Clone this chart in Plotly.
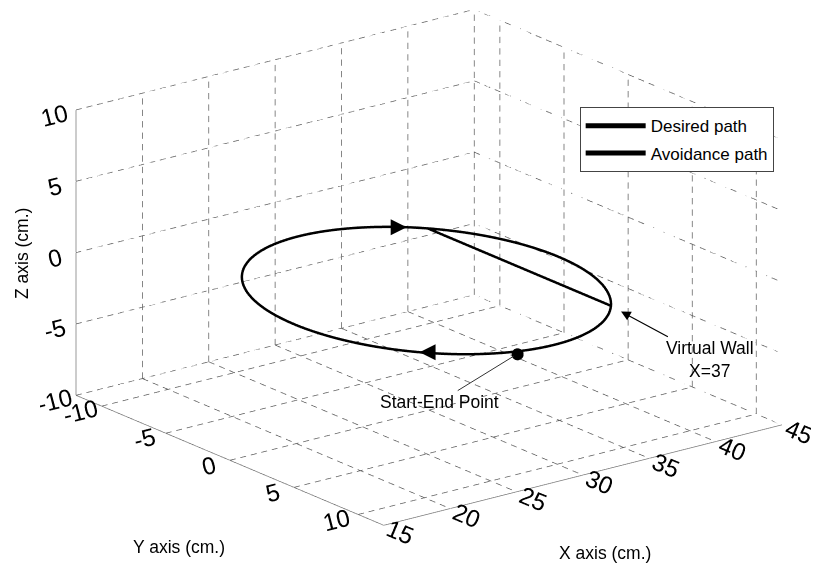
import numpy as np
import plotly.graph_objects as go

# ---- axis data ----
x_ticks = [15, 20, 25, 30, 35, 40, 45]
y_ticks = [-10, -5, 0, 5, 10]
z_ticks = [-10, -5, 0, 5, 10]
x_tick_labels = ["15", "20", "25", "30", "35", "40", "45"]
y_tick_labels = ["-10", "-5", "0", "5", "10"]
z_tick_labels = ["-10", "-5", "0", "5", "10"]
x_range = [15, 45]
y_range = [-12, 12]
z_range = [-10, 10]

# ---- path data ----
path_center_x = 30.0
path_center_y = -0.2
path_z = -1.7
path_radius = 10.0
wall_x = 37.0
start_point = [27.2, 9.8, -1.7]
direction_arrow_angles_deg = [-52, 136]
series_names = ["Desired path", "Avoidance path"]

FONT = "Liberation Sans, Arial, sans-serif"

t = np.linspace(0, 2 * np.pi, 721)
desired_x = path_center_x + path_radius * np.cos(t)
desired_y = path_center_y + path_radius * np.sin(t)
desired_z = np.full_like(t, path_z)
avoid_x = np.minimum(desired_x, wall_x)

fig = go.Figure()

# ---- dashed grid on the three back planes (dashes built explicitly) ----
gx, gy, gz = [], [], []
DASH_PERIOD = 0.8
DUTY = 0.55
def seg(p, q):
    p = np.array(p, float); q = np.array(q, float)
    L = np.linalg.norm(q - p)
    n = max(1, int(round(L / DASH_PERIOD)))
    d = (q - p) / n
    for i in range(n):
        a = p + d * i
        b = p + d * (i + DUTY)
        gx.extend([a[0], b[0], None]); gy.extend([a[1], b[1], None]); gz.extend([a[2], b[2], None])

for xv in x_ticks:  # floor + back wall (y = min)
    seg((xv, y_range[0], z_range[0]), (xv, y_range[1], z_range[0]))
    seg((xv, y_range[0], z_range[0]), (xv, y_range[0], z_range[1]))
for yv in y_ticks:  # floor + right wall (x = max)
    seg((x_range[0], yv, z_range[0]), (x_range[1], yv, z_range[0]))
    seg((x_range[1], yv, z_range[0]), (x_range[1], yv, z_range[1]))
for zv in z_ticks:  # both walls
    seg((x_range[0], y_range[0], zv), (x_range[1], y_range[0], zv))
    seg((x_range[1], y_range[0], zv), (x_range[1], y_range[1], zv))

fig.add_trace(go.Scatter3d(x=gx, y=gy, z=gz, mode="lines",
                           line=dict(color="#5e5e5e", width=1.5),
                           showlegend=False, hoverinfo="skip"))

# ---- paths ----
fig.add_trace(go.Scatter3d(x=desired_x, y=desired_y, z=desired_z, mode="lines",
                           name=series_names[0], legendgroup="a",
                           line=dict(color="black", width=5)))
fig.add_trace(go.Scatter3d(x=avoid_x, y=desired_y, z=desired_z, mode="lines",
                           name=series_names[1], legendgroup="b",
                           line=dict(color="black", width=5)))
fig.add_trace(go.Scatter3d(x=[start_point[0]], y=[start_point[1]], z=[start_point[2]],
                           mode="markers", marker=dict(color="black", size=7),
                           showlegend=False, hoverinfo="skip"))

# ---- annotations ----
ANN_FONT = dict(family=FONT, size=17.5, color="black")
wall_y = path_center_y + np.sqrt(path_radius**2 - (wall_x - path_center_x) ** 2)
annos = [
    dict(x=wall_x, y=wall_y, z=path_z, text="Virtual Wall<br>X=37", showarrow=True,
         arrowhead=2, arrowsize=1.6, arrowwidth=1.2, arrowcolor="black", standoff=12,
         ax=100, ay=54, font=ANN_FONT),
    dict(x=start_point[0], y=start_point[1], z=start_point[2], text="Start-End Point",
         showarrow=True, arrowhead=0, arrowwidth=1, arrowcolor="#333", standoff=4,
         ax=-78, ay=48, font=ANN_FONT),
]
for ang, sgn in zip(direction_arrow_angles_deg, [-1, 1]):
    a = np.deg2rad(ang)
    annos.append(dict(x=path_center_x + path_radius * np.cos(a),
                      y=path_center_y + path_radius * np.sin(a), z=path_z,
                      text="", showarrow=True, arrowhead=2, arrowsize=1.6,
                      arrowwidth=2, arrowcolor="black", ax=sgn * 14, ay=0))

axis_common = dict(showgrid=False, zeroline=False, showbackground=False,
                   showspikes=False, showline=True, linecolor="#777", linewidth=1.5,
                   ticks="outside", tickcolor="rgba(0,0,0,0)", ticklen=9,
                   tickfont=dict(family=FONT, size=17, color="black"), title=dict(text=""))

eye_dir = np.array([-0.578, -0.748, 0.3265])
eye = eye_dir * 1.19
S = 1.83
C_Z = -0.06

fig.update_layout(
    width=819, height=567,
    paper_bgcolor="white", plot_bgcolor="white",
    margin=dict(l=0, r=0, t=0, b=0),
    font=dict(family=FONT, size=17, color="black"),
    scene=dict(
        domain=dict(x=[0.0385, 0.9885], y=[0.03, 1.0]),
        xaxis=dict(range=x_range, tickvals=x_ticks, ticktext=x_tick_labels,
                   autorange=False, **axis_common),
        yaxis=dict(range=y_range[::-1], tickvals=y_ticks, ticktext=y_tick_labels,
                   autorange=False, **axis_common),
        zaxis=dict(range=z_range, tickvals=z_ticks, ticktext=z_tick_labels,
                   autorange=False, **axis_common),
        aspectmode="manual", aspectratio=dict(x=S, y=S, z=0.6 * S),
        camera=dict(projection=dict(type="orthographic"),
                    eye=dict(x=eye[0], y=eye[1], z=eye[2] + C_Z),
                    center=dict(x=0, y=0, z=C_Z), up=dict(x=0, y=0, z=1)),
        annotations=annos,
    ),
    legend=dict(x=0.698, y=0.825, xanchor="left", yanchor="top",
                bordercolor="#444", borderwidth=1, bgcolor="white",
                traceorder="grouped", tracegroupgap=2, itemwidth=60,
                font=dict(family=FONT, size=17, color="black")),
    annotations=[
        dict(text="Z axis (cm.)", x=14 / 819, y=1 - 246 / 567, xref="paper", yref="paper",
             xanchor="center", yanchor="middle",
             showarrow=False, textangle=-90, font=ANN_FONT),
        dict(text="Y axis (cm.)", x=171 / 819, y=1 - 539 / 567, xref="paper", yref="paper",
             xanchor="center", yanchor="middle", showarrow=False, font=ANN_FONT),
        dict(text="X axis (cm.)", x=597 / 819, y=1 - 545 / 567, xref="paper", yref="paper",
             xanchor="center", yanchor="middle", showarrow=False, font=ANN_FONT),
    ],
)

fig.write_html("out.html")
